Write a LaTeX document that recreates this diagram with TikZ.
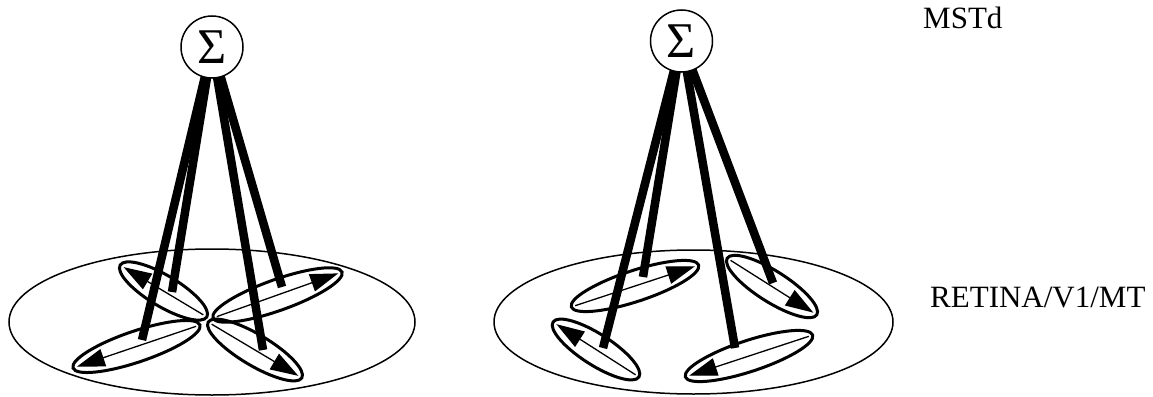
\documentclass[tikz,border=0pt]{standalone}
\usepackage{fontspec}
\setmainfont{Liberation Serif}
\usetikzlibrary{calc,arrows.meta}
\tikzset{
  sumnode/.style={circle,draw,line width=1.5pt,fill=white,minimum size=62pt,inner sep=0pt,font=\fontsize{50}{50}\selectfont},
  fieldline/.style={line width=1.5pt},
  rfline/.style={line width=3pt},
  dirarrow/.style={line width=1.3pt,-{Triangle[length=28pt,width=18pt]},shorten >=4pt,shorten <=4pt},
  wire/.style={line width=8.5pt},
  lbl/.style={anchor=base west,inner sep=0pt,font=\fontsize{31}{31}\selectfont}
}
% name, x, y, angle, semi-major axis
\newcommand\rfield[5]{%
  \coordinate (#1) at (#2,#3);
  \draw[rfline] (#1) ellipse [x radius=#5pt, y radius=15.5pt, rotate=#4];
  \coordinate (#1-e) at ($(#1)+(#4:#5pt)$);
  \coordinate (#1-w) at ($(#1)+(#4+180:#5pt)$);
}
\begin{document}
\begin{tikzpicture}[x=1pt,y=1pt]
\useasboundingbox (0,0) rectangle (1153,-396);
% big fields
\coordinate (L) at (212,-322);
\coordinate (R) at (693.5,-322);
\draw[fieldline] (L) ellipse [x radius=203pt, y radius=73pt];
\draw[fieldline] (R) ellipse [x radius=199.5pt, y radius=72pt];
% left receptive fields
\rfield{e1}{163.5}{-291}{-30.9}{50.5}
\rfield{e2}{277.5}{-295}{19.6}{68.5}
\rfield{e3}{136.5}{-346.5}{18.7}{67}
\rfield{e4}{255}{-350}{-30.8}{54.5}
\draw[dirarrow] (e1-e) -- (e1-w);
\draw[dirarrow] (e2-w) -- (e2-e);
\draw[dirarrow] (e3-e) -- (e3-w);
\draw[dirarrow] (e4-w) -- (e4-e);
% right receptive fields
\rfield{f1}{635}{-286}{18.2}{67}
\rfield{f2}{772}{-286.5}{-32.3}{53}
\rfield{f3}{596}{-349.5}{-32.6}{51}
\rfield{f4}{749}{-356}{18.2}{67}
\draw[dirarrow] (f1-w) -- (f1-e);
\draw[dirarrow] (f2-w) -- (f2-e);
\draw[dirarrow] (f3-e) -- (f3-w);
\draw[dirarrow] (f4-e) -- (f4-w);
% wire ends
\coordinate (t1) at (172,-292);
\coordinate (t2) at (282,-287);
\coordinate (t3) at (142,-340);
\coordinate (t4) at (263,-350);
\coordinate (u1) at (643,-277);
\coordinate (u2) at (773,-283);
\coordinate (u3) at (603,-348);
\coordinate (u4) at (735,-348);
\coordinate (c1) at (212,-47);
\coordinate (c2) at (681.5,-41);
\draw[wire] (c1) -- (t1);
\draw[wire] (c1) -- (t2);
\draw[wire] (c1) -- (t3);
\draw[wire] (c1) -- (t4);
\draw[wire] (c2) -- (u1);
\draw[wire] (c2) -- (u2);
\draw[wire] (c2) -- (u3);
\draw[wire] (c2) -- (u4);
\node[sumnode] (s1) at (c1) {Σ};
\node[sumnode] (s2) at (c2) {Σ};
% labels
\node[lbl] (m1) at (923,-29) {MSTd};
\node[lbl] (m2) at (930,-307) {RETINA/V1/MT};
\end{tikzpicture}
\end{document}
